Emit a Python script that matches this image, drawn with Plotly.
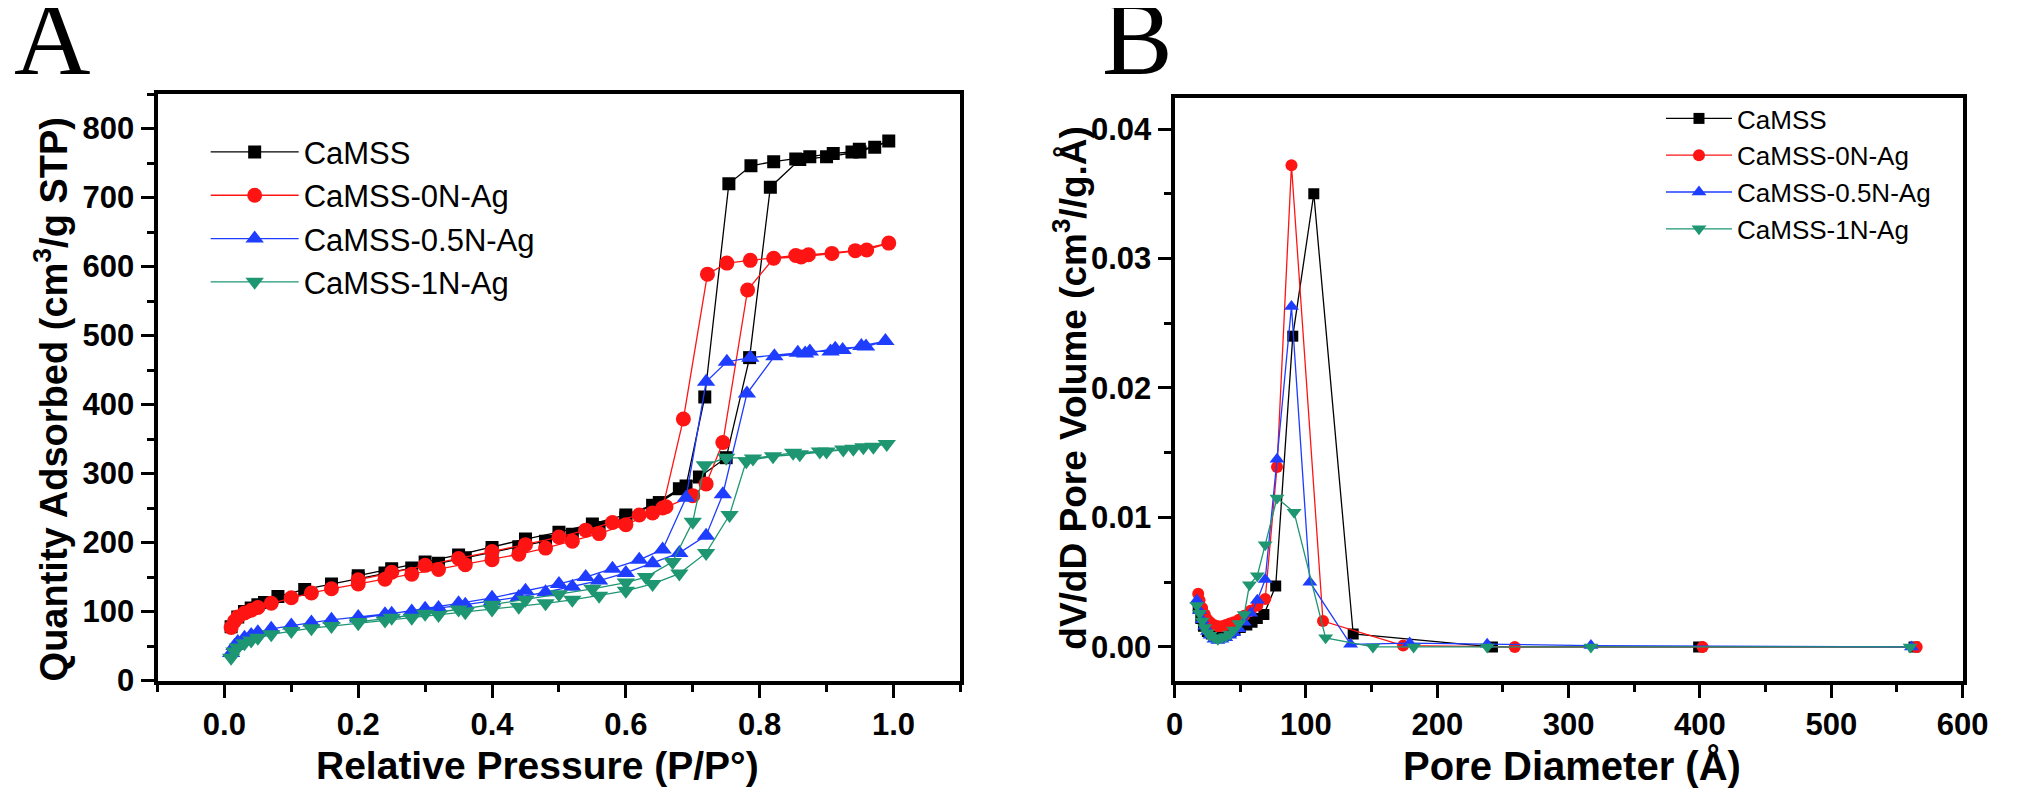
import plotly.graph_objects as go

# ---------- Panel A: N2 isotherms (adsorption + desorption branch) ----------
p_camss = [0.01, 0.02, 0.03, 0.04, 0.05, 0.06, 0.08, 0.12, 0.16, 0.20, 0.24, 0.28, 0.32, 0.36,
           0.40, 0.44, 0.48, 0.52, 0.56, 0.60, 0.64, 0.68, 0.71, 0.75, 0.785, 0.816, 0.86, 0.90,
           0.95, 0.993,
           0.972, 0.949, 0.938, 0.91, 0.875, 0.854, 0.821, 0.787, 0.754, 0.718, 0.69, 0.65, 0.60,
           0.55, 0.50, 0.45, 0.40, 0.35, 0.30, 0.25, 0.20]
q_camss = [78, 92, 100, 105, 110, 113, 122, 132, 140, 148, 156, 163, 170, 178,
           186, 194, 202, 212, 222, 236, 254, 278, 295, 323, 468, 715, 755, 759,
           766, 782,
           773, 770, 766, 764, 759, 756, 752, 746, 720, 411, 282, 258, 240,
           227, 215, 205, 193, 182, 172, 162, 152]

p_0n = [0.01, 0.015, 0.02, 0.03, 0.04, 0.05, 0.07, 0.10, 0.13, 0.16, 0.20, 0.24, 0.28, 0.32,
        0.36, 0.40, 0.44, 0.48, 0.52, 0.56, 0.60, 0.64, 0.66, 0.70, 0.72, 0.745, 0.782, 0.821,
        0.862, 0.908, 0.96, 0.993,
        0.943, 0.873, 0.854, 0.786, 0.751, 0.722, 0.686, 0.655, 0.62, 0.58, 0.54, 0.50, 0.45,
        0.40, 0.35, 0.30, 0.25, 0.20]
q_0n = [77, 86, 92, 98, 102, 106, 112, 120, 127, 133, 140, 147, 154, 161,
        168, 175, 183, 192, 202, 213, 226, 243, 252, 268, 285, 345, 566, 612,
        614, 619, 624, 634,
        623, 617, 616, 609, 605, 589, 379, 250, 240, 229, 218, 208, 197,
        187, 177, 167, 157, 146]

p_05n = [0.01, 0.015, 0.02, 0.03, 0.04, 0.05, 0.07, 0.10, 0.13, 0.16, 0.20, 0.24, 0.28, 0.32,
         0.36, 0.40, 0.44, 0.48, 0.52, 0.56, 0.60, 0.64, 0.68, 0.72, 0.745, 0.781, 0.822, 0.868,
         0.913, 0.959, 0.988,
         0.952, 0.924, 0.906, 0.875, 0.857, 0.786, 0.751, 0.72, 0.69, 0.655, 0.62, 0.58, 0.54,
         0.50, 0.45, 0.40, 0.35, 0.30, 0.25, 0.20]
q_05n = [40, 50, 56, 62, 66, 70, 75, 80, 84, 88, 92, 96, 100, 105,
         110, 115, 121, 128, 136, 145, 156, 170, 185, 210, 270, 416, 470, 474,
         481, 484, 492,
         485, 479, 477, 477, 475, 468, 462, 433, 265, 190, 175, 162, 150,
         140, 130, 120, 112, 104, 97, 90]

p_1n = [0.01, 0.015, 0.02, 0.03, 0.04, 0.05, 0.07, 0.10, 0.13, 0.16, 0.20, 0.24, 0.28, 0.32,
        0.36, 0.40, 0.44, 0.48, 0.52, 0.56, 0.60, 0.64, 0.68, 0.72, 0.755, 0.78, 0.82, 0.86,
        0.90, 0.94, 0.97, 0.99,
        0.955, 0.925, 0.89, 0.85, 0.79, 0.75, 0.718, 0.70, 0.67, 0.63, 0.60, 0.55, 0.50,
        0.45, 0.40, 0.35, 0.30, 0.25, 0.20]
q_1n = [33, 42, 48, 54, 58, 62, 67, 72, 76, 79, 83, 87, 91, 95,
        99, 103, 107, 112, 117, 123, 130, 140, 155, 185, 240, 318, 325, 328,
        332, 336, 339, 343,
        338, 335, 332, 330, 322, 323, 312, 230, 172, 150, 142, 133, 125,
        117, 110, 103, 97, 91, 85]

# ---------- Panel B: pore size distribution ----------
d_camss = [18, 20, 22, 25, 28, 31, 34, 37, 40, 43, 46, 50, 55, 59, 63, 68, 77, 90, 106, 136, 242, 399, 563]
v_camss = [0.0030, 0.0022, 0.0016, 0.0012, 0.0010, 0.0009, 0.0009, 0.0010, 0.0011, 0.0012, 0.0013,
           0.0015, 0.0017, 0.0019, 0.0022, 0.0025, 0.0047, 0.0240, 0.0350, 0.0010, 0.0000, 0.0000, 0.0000]

d_0n = [18, 19, 21, 23, 25, 27, 30, 33, 36, 39, 42, 45, 49, 53, 58, 63, 69, 78, 89, 113, 174, 259, 402, 565]
v_0n = [0.0041, 0.0036, 0.0030, 0.0025, 0.0021, 0.0019, 0.0017, 0.0016, 0.0016, 0.0017, 0.0018, 0.0019,
        0.0021, 0.0024, 0.0028, 0.0032, 0.0037, 0.0139, 0.0372, 0.0020, 0.0001, 0.0000, 0.0000, 0.0000]

d_05n = [17, 19, 21, 23, 25, 27, 30, 33, 36, 39, 42, 45, 49, 53, 58, 63, 69, 78, 89, 103, 134, 179, 238, 317, 561]
v_05n = [0.0036, 0.0028, 0.0021, 0.0016, 0.0012, 0.0009, 0.0006, 0.0005, 0.0006, 0.0007, 0.0009, 0.0011,
         0.0014, 0.0019, 0.0026, 0.0036, 0.0052, 0.0145, 0.0263, 0.0050, 0.0002, 0.0003, 0.0002, 0.0001, 0.0000]

d_1n = [17, 19, 21, 23, 25, 27, 30, 33, 36, 39, 42, 45, 49, 53, 57, 63, 69, 78, 91, 115, 151, 182, 238, 317, 560]
v_1n = [0.0032, 0.0026, 0.0020, 0.0015, 0.0011, 0.0009, 0.0007, 0.0006, 0.0007, 0.0008, 0.0010, 0.0013,
        0.0018, 0.0025, 0.0048, 0.0055, 0.0079, 0.0115, 0.0104, 0.0007, 0.0000, 0.0000, 0.0000, 0.0000, 0.0000]

names = ["CaMSS", "CaMSS-0N-Ag", "CaMSS-0.5N-Ag", "CaMSS-1N-Ag"]
colors = ["#000000", "#ff1414", "#1f3dff", "#1e9672"]
symbols = ["square", "circle", "triangle-up", "triangle-down"]
size_a = [13, 15, 16, 16]
size_b = [11, 12, 13, 13]

iso_x = [p_camss, p_0n, p_05n, p_1n]
iso_y = [q_camss, q_0n, q_05n, q_1n]
psd_x = [d_camss, d_0n, d_05n, d_1n]
psd_y = [v_camss, v_0n, v_05n, v_1n]

fig = go.Figure()
for i in range(4):
    fig.add_trace(go.Scatter(x=iso_x[i], y=iso_y[i], name=names[i], mode="lines+markers",
                             line=dict(color=colors[i], width=1.3),
                             marker=dict(symbol=symbols[i], size=size_a[i], color=colors[i]),
                             xaxis="x", yaxis="y", legend="legend"))
for i in range(4):
    fig.add_trace(go.Scatter(x=psd_x[i], y=psd_y[i], name=names[i], mode="lines+markers",
                             line=dict(color=colors[i], width=1.3),
                             marker=dict(symbol=symbols[i], size=size_b[i], color=colors[i]),
                             xaxis="x2", yaxis="y2", legend="legend2"))

W, H = 2018, 803
tickfont = dict(family="Liberation Sans, Arial, sans-serif", size=31, color="black", weight="bold")


def ax(**kw):
    d = dict(showline=True, linewidth=4, linecolor="black", mirror=True, ticks="outside",
             ticklen=13, tickwidth=3, tickcolor="black", showgrid=False, zeroline=False,
             tickfont=tickfont)
    d.update(kw)
    return d


minor_t = dict(ticks="outside", ticklen=7, tickwidth=3, tickcolor="black", showgrid=False)

fig.update_layout(
    width=W, height=H, autosize=False,
    margin=dict(l=0, r=0, t=0, b=0),
    paper_bgcolor="white", plot_bgcolor="white",
    xaxis=ax(domain=[143 / W, 960 / W], range=[-0.1, 1.1], tick0=0, dtick=0.2, tickformat=".1f",
             minor=dict(dtick=0.1, **minor_t), anchor="y"),
    yaxis=ax(domain=[1 - 688 / H, 1 - 88 / H], range=[0, 850], tick0=0, dtick=100,
             minor=dict(dtick=50, **minor_t), anchor="x"),
    xaxis2=ax(domain=[1178 / W, 1980 / W], range=[0, 600], tick0=0, dtick=100,
              minor=dict(dtick=50, **minor_t), anchor="y2"),
    yaxis2=ax(domain=[1 - 688 / H, 1 - 92 / H], range=[-0.0026, 0.0424], tick0=0, dtick=0.01,
              tickformat=".2f", minor=dict(dtick=0.005, **minor_t), anchor="x2"),
    legend=dict(x=192 / W, y=1 - 120 / H, xanchor="left", yanchor="top", itemwidth=88,
                bgcolor="rgba(0,0,0,0)", font=dict(family="Liberation Sans, Arial", size=31, color="black")),
    legend2=dict(x=1673 / W, y=1 - 89 / H, xanchor="left", yanchor="top", itemwidth=66,
                 bgcolor="rgba(0,0,0,0)", font=dict(family="Liberation Sans, Arial", size=26, color="black")),
    showlegend=True,
)

title_font = dict(family="Liberation Sans, Arial, sans-serif", size=39, color="black", weight="bold")
letter_font = dict(family="Liberation Serif, Times New Roman, serif", size=106, color="black")

fig.add_annotation(text="A", x=36 / W, y=1 - 31 / H, xref="paper", yref="paper",
                   xanchor="center", yanchor="middle", showarrow=False, font=letter_font)
fig.add_annotation(text="B", x=1140 / W, y=1 - 31 / H, xref="paper", yref="paper",
                   xanchor="center", yanchor="middle", showarrow=False, font=letter_font)
fig.add_annotation(text="Relative Pressure (P/P°)", x=530 / W, y=1 - 775 / H, xref="paper", yref="paper",
                   xanchor="center", yanchor="middle", showarrow=False, font=title_font)
fig.add_annotation(text="Pore Diameter (Å)", x=1582 / W, y=1 - 775 / H, xref="paper", yref="paper",
                   xanchor="center", yanchor="middle", showarrow=False, font=dict(title_font, size=40))
fig.add_annotation(text="Quantity Adsorbed (cm<sup>3</sup>/g STP)", x=35 / W, y=1 - 400 / H,
                   xref="paper", yref="paper", xanchor="center", yanchor="middle", textangle=-90,
                   showarrow=False, font=dict(title_font, size=38))
fig.add_annotation(text="dV/dD Pore Volume (cm<sup>3</sup>//g.Å)", x=1072 / W, y=1 - 388 / H,
                   xref="paper", yref="paper", xanchor="center", yanchor="middle", textangle=-90,
                   showarrow=False, font=dict(title_font, size=37))

fig.write_html("out.html")
